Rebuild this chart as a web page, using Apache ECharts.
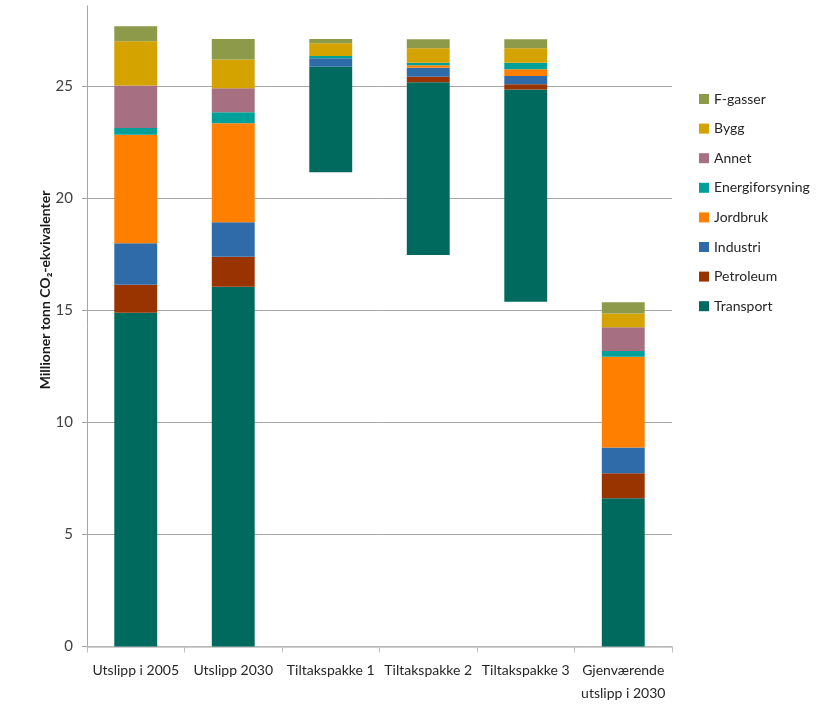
<!DOCTYPE html>
<html>
<head>
<meta charset="utf-8">
<script src="https://cdn.jsdelivr.net/npm/echarts@6/dist/echarts.min.js"></script>
<style>html,body{margin:0;padding:0;background:#fff;}#c{width:826px;height:717px;}</style>
</head>
<body>
<div id="c"></div>
<script>
const categories = ['Utslipp i 2005', 'Utslipp 2030', 'Tiltakspakke 1', 'Tiltakspakke 2', 'Tiltakspakke 3', 'Gjenværende\nutslipp i 2030'];
const yTicks = [0, 5, 10, 15, 20, 25];
const base      = [0, 0, 21.17, 17.48, 15.39, 0];
const transport = [14.90, 16.06, 4.71, 7.71, 9.48, 6.62];
const petroleum = [1.25, 1.34, 0, 0.25, 0.23, 1.11];
const industri  = [1.85, 1.54, 0.38, 0.40, 0.37, 1.15];
const jordbruk  = [4.85, 4.42, 0, 0.11, 0.30, 4.06];
const energi    = [0.30, 0.49, 0.10, 0.11, 0.29, 0.25];
const annet     = [1.90, 1.07, 0, 0, 0, 1.06];
const bygg      = [1.97, 1.29, 0.57, 0.65, 0.65, 0.62];
const fgasser   = [0.67, 0.91, 0.19, 0.40, 0.40, 0.50];

const seriesDefs = [
  ['Transport', transport, '#006A5E'],
  ['Petroleum', petroleum, '#993300'],
  ['Industri', industri, '#2F6BA8'],
  ['Jordbruk', jordbruk, '#FF8000'],
  ['Energiforsyning', energi, '#00A09A'],
  ['Annet', annet, '#A66F82'],
  ['Bygg', bygg, '#D4A300'],
  ['F-gasser', fgasser, '#8C9A4A']
];

const FONT = 'Lato';
const series = [{
  name: 'base', type: 'bar', stack: 'all', data: base, barWidth: '44%',
  itemStyle: { color: 'transparent' }, emphasis: { disabled: true }, silent: true
}];
seriesDefs.forEach(([n, d, c]) => series.push({
  name: n, type: 'bar', stack: 'all', data: d, barWidth: '44%',
  itemStyle: { color: c }
}));

const chart = echarts.init(document.getElementById('c'), null, { renderer: 'canvas' });
chart.setOption({
  animation: false,
  backgroundColor: '#fff',
  textStyle: { fontFamily: FONT },
  grid: { left: 87, right: 154, top: 5.9, bottom: 70.5, containLabel: false },
  legend: {
    orient: 'vertical', left: 694, top: 86,
    data: seriesDefs.map(s => s[0]).reverse(),
    icon: 'rect', itemWidth: 10, itemHeight: 10, itemGap: 13.6,
    textStyle: { fontFamily: FONT, fontSize: 14, color: '#262626', lineHeight: 16 }
  },
  graphic: [{
    type: 'text', x: 45, y: 290, rotation: Math.PI / 2,
    style: {
      text: 'Millioner tonn CO₂-ekvivalenter',
      font: 'bold 14px Lato', fill: '#1a1a1a',
      align: 'center', verticalAlign: 'middle'
    }
  }],
  xAxis: {
    type: 'category', data: categories,
    axisLine: { lineStyle: { color: '#BFBFBF', width: 1.5 } },
    axisTick: { show: true, length: 6, lineStyle: { color: '#BFBFBF' } },
    axisLabel: { fontFamily: FONT, fontSize: 14, color: '#262626', margin: 12, lineHeight: 23, interval: 0 }
  },
  yAxis: {
    type: 'value', min: 0, max: 28.6, interval: 5,
    axisLine: { show: true, lineStyle: { color: '#A6A6A6' } },
    axisTick: { show: true, length: 5, lineStyle: { color: '#A6A6A6' }, customValues: yTicks },
    axisLabel: { fontFamily: FONT, fontSize: 15, color: '#404040', margin: 14, customValues: yTicks },
    splitLine: { show: true, lineStyle: { color: '#A6A6A6' } }
  },
  series: series
});
</script>
</body>
</html>
